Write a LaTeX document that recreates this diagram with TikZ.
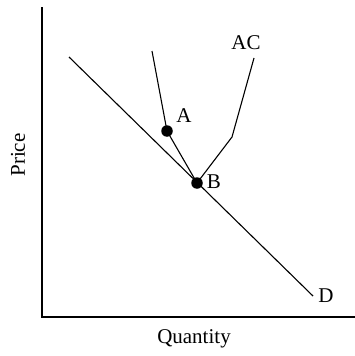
\documentclass[tikz,border=0pt]{standalone}
\usepackage{fontspec}
\setmainfont{Liberation Serif}
\begin{document}
\begin{tikzpicture}[x=1pt,y=-1pt,
  curve/.style={line width=1.1pt,black},
  dot/.style={circle,fill=black,inner sep=0pt,minimum size=11.5pt},
  lbl/.style={font=\fontsize{21}{23}\selectfont,inner sep=0pt}]
\useasboundingbox (0,0) rectangle (355,356);
% axes
\coordinate (ytop) at (42,7);
\coordinate (orig) at (42,317);
\coordinate (xend) at (355,317);
\draw[curve] (ytop) -- (orig) -- (xend);
% demand
\coordinate (d1) at (69,57);
\coordinate (d2) at (313,296);
\draw[curve] (d1) -- (d2);
% AC
\coordinate (ac1) at (152,51);
\node[dot] (A) at (167,131) {};
\node[dot] (B) at (197,183) {};
\coordinate (ack) at (232,137);
\coordinate (ac2) at (254,58);
\draw[curve] (ac1) -- (A.center) -- (B.center) -- (ack) -- (ac2);
% labels
\node[lbl] (lA) at (184,116) {A};
\node[lbl] (lB) at (214,182) {B};
\node[lbl] (lAC) at (246,43) {AC};
\node[lbl] (lD) at (326,296) {D};
\node[lbl] (lQ) at (194,339) {Quantity};
\node[lbl,rotate=90] (lP) at (18,155) {Price};
\end{tikzpicture}
\end{document}
